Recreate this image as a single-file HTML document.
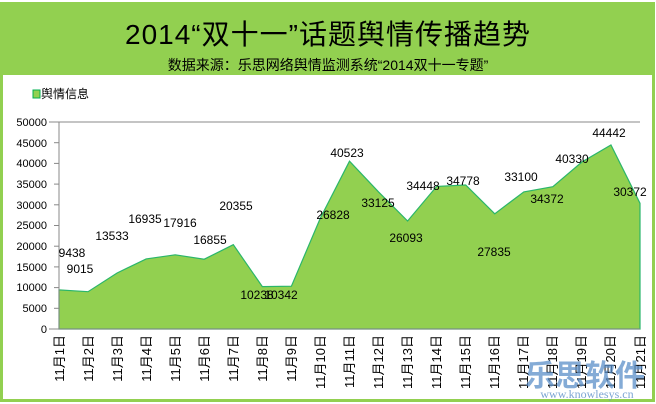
<!DOCTYPE html>
<html><head><meta charset="utf-8"><style>
html,body{margin:0;padding:0;background:#fff}
svg{display:block}
text{font-family:"Liberation Sans","Noto Sans CJK SC",sans-serif;fill:#000}
</style></head><body>
<svg width="656" height="404" viewBox="0 0 656 404" xmlns="http://www.w3.org/2000/svg">
<rect x="0" y="0" width="656" height="404" fill="#fff"/>
<rect x="1.5" y="3.5" width="652" height="397" fill="#fff" stroke="#92d050" stroke-width="3"/>
<rect x="3" y="4" width="650" height="71" fill="#92d050"/>
<text x="328" y="44" font-size="28" text-anchor="middle" letter-spacing="1">2014“双十一”话题舆情传播趋势</text>
<text x="328" y="70" font-size="14" text-anchor="middle">数据来源：乐思网络舆情监测系统“2014双十一专题”</text>
<rect x="33" y="90" width="7" height="8" fill="#92d050" stroke="#00b050" stroke-width="1"/>
<text x="41" y="98" font-size="12">舆情信息</text>
<line x1="49" y1="122" x2="640" y2="122" stroke="#888" stroke-width="1"/>
<polygon fill="#92d050" stroke="#2ab66a" stroke-width="1.2" points="59,329 59,289.9 88.05,291.7 117.1,273 146.15,258.9 175.2,254.8 204.25,259.2 233.3,244.7 262.35,286.6 291.4,286.2 320.45,217.9 349.5,161.2 378.55,191.9 407.6,221 436.65,186.4 465.7,185 494.75,213.8 523.8,191.9 552.85,186.7 581.9,162 610.95,145 640,203.3 640,329"/>
<line x1="59" y1="122" x2="59" y2="329" stroke="#888"/>
<line x1="49" y1="329" x2="640" y2="329" stroke="#888"/>
<g stroke="#888">
<line x1="54" y1="122" x2="59" y2="122"/><line x1="54" y1="142.7" x2="59" y2="142.7"/><line x1="54" y1="163.4" x2="59" y2="163.4"/><line x1="54" y1="184.1" x2="59" y2="184.1"/><line x1="54" y1="204.8" x2="59" y2="204.8"/><line x1="54" y1="225.5" x2="59" y2="225.5"/><line x1="54" y1="246.2" x2="59" y2="246.2"/><line x1="54" y1="266.9" x2="59" y2="266.9"/><line x1="54" y1="287.6" x2="59" y2="287.6"/><line x1="54" y1="308.3" x2="59" y2="308.3"/><line x1="54" y1="329" x2="59" y2="329"/>
</g>
<g font-size="11" text-anchor="end">
<text x="47" y="126">50000</text><text x="47" y="147">45000</text><text x="47" y="167">40000</text><text x="47" y="188">35000</text><text x="47" y="209">30000</text><text x="47" y="229">25000</text><text x="47" y="250">20000</text><text x="47" y="271">15000</text><text x="47" y="291">10000</text><text x="47" y="312">5000</text><text x="47" y="333">0</text>
</g>
<g font-size="12" text-anchor="middle">
<text x="72" y="257">9438</text><text x="80" y="273">9015</text><text x="112" y="240">13533</text><text x="145" y="223">16935</text><text x="180" y="227">17916</text><text x="210" y="244">16855</text><text x="236" y="210">20355</text><text x="257" y="299">10238</text><text x="281" y="299">10342</text><text x="333" y="219">26828</text><text x="347" y="157">40523</text><text x="378" y="207">33125</text><text x="406" y="242">26093</text><text x="423" y="190">34448</text><text x="463" y="185">34778</text><text x="494" y="256">27835</text><text x="521" y="181">33100</text><text x="547" y="203">34372</text><text x="572" y="163">40330</text><text x="609" y="137">44442</text><text x="630" y="196">30372</text>
</g>
<g font-size="13" text-anchor="end">
<text transform="translate(64,335) rotate(-90)">11月1日</text>
<text transform="translate(93,335) rotate(-90)">11月2日</text>
<text transform="translate(122,335) rotate(-90)">11月3日</text>
<text transform="translate(151,335) rotate(-90)">11月4日</text>
<text transform="translate(180,335) rotate(-90)">11月5日</text>
<text transform="translate(209,335) rotate(-90)">11月6日</text>
<text transform="translate(238,335) rotate(-90)">11月7日</text>
<text transform="translate(267,335) rotate(-90)">11月8日</text>
<text transform="translate(296,335) rotate(-90)">11月9日</text>
<text transform="translate(325,335) rotate(-90)">11月10日</text>
<text transform="translate(354,335) rotate(-90)">11月11日</text>
<text transform="translate(383,335) rotate(-90)">11月12日</text>
<text transform="translate(412,335) rotate(-90)">11月13日</text>
<text transform="translate(441,335) rotate(-90)">11月14日</text>
<text transform="translate(470,335) rotate(-90)">11月15日</text>
<text transform="translate(499,335) rotate(-90)">11月16日</text>
<text transform="translate(528,335) rotate(-90)">11月17日</text>
<text transform="translate(557,335) rotate(-90)">11月18日</text>
<text transform="translate(586,335) rotate(-90)">11月19日</text>
<text transform="translate(615,335) rotate(-90)">11月20日</text>
<text transform="translate(645,335) rotate(-90)">11月21日</text>
</g>
<text x="585" y="386" font-size="30" font-weight="bold" text-anchor="middle" style="fill:#5b8fc8;fill-opacity:0.75">乐思软件</text>
<text x="587" y="398" font-size="12" text-anchor="middle" style="fill:#5b8fc8;fill-opacity:0.8;font-family:'Liberation Serif',serif">www.knowlesys.cn</text>
</svg>
</body></html>
